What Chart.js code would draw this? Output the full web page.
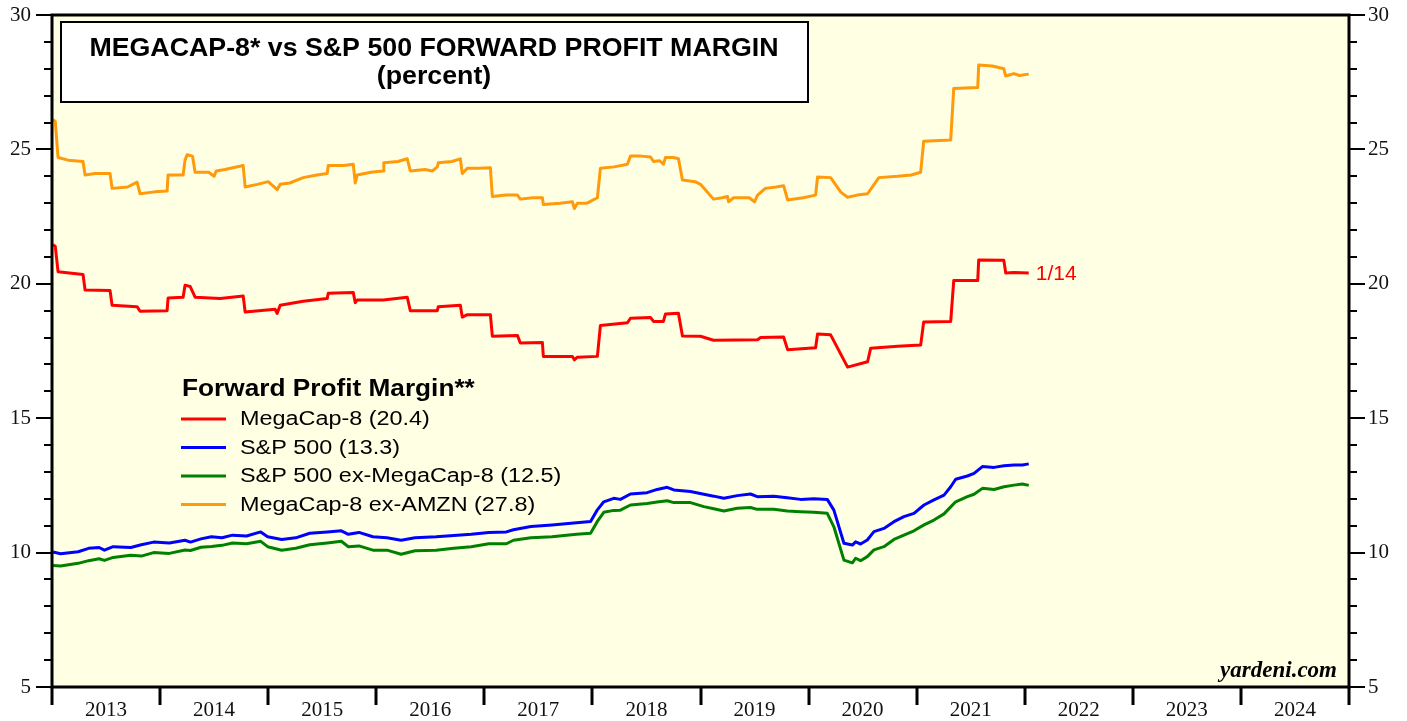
<!DOCTYPE html>
<html>
<head>
<meta charset="utf-8">
<script src="https://cdn.jsdelivr.net/npm/chart.js@4/dist/chart.umd.min.js"></script>
<style>
  html, body { margin: 0; padding: 0; background: #fff; }
  #wrap { width: 1407px; height: 721px; }
</style>
</head>
<body>
<div id="wrap"><canvas id="marginChart" width="1407" height="721"></canvas></div>
<script>
/*
  Megacap-8 vs S&P 500 forward profit margin (percent), weekly, 2013 - 1/14/2022.
  Dates are decimal years.
*/

// MegaCap-8 (red)
const megaYears = [2013.01, 2013.03, 2013.056, 2013.287, 2013.306, 2013.537, 2013.556, 2013.787, 2013.815, 2014.065,
  2014.074, 2014.213, 2014.231, 2014.278, 2014.324, 2014.556, 2014.769, 2014.787, 2015.065, 2015.083,
  2015.111, 2015.324, 2015.546, 2015.556, 2015.787, 2015.806, 2015.824, 2016.065, 2016.287, 2016.315,
  2016.565, 2016.574, 2016.778, 2016.796, 2016.843, 2017.056, 2017.074, 2017.306, 2017.333, 2017.537,
  2017.546, 2017.815, 2017.833, 2017.861, 2018.046, 2018.074, 2018.324, 2018.352, 2018.537, 2018.565,
  2018.657, 2018.676, 2018.796, 2018.833, 2019.0, 2019.12, 2019.528, 2019.556, 2019.769, 2019.806,
  2020.065, 2020.083, 2020.204, 2020.361, 2020.546, 2020.574, 2020.824, 2021.037, 2021.065, 2021.315,
  2021.343, 2021.565, 2021.574, 2021.806, 2021.824, 2021.9, 2022.037];
const megaValues = [21.45, 21.4, 20.45, 20.35, 19.77, 19.75, 19.2, 19.15, 18.98, 19.0,
  19.47, 19.5, 19.95, 19.9, 19.5, 19.45, 19.55, 18.95, 19.05, 18.9,
  19.2, 19.35, 19.45, 19.65, 19.68, 19.3, 19.4, 19.4, 19.5, 19.0,
  19.0, 19.15, 19.2, 18.76, 18.85, 18.85, 18.05, 18.08, 17.8, 17.82,
  17.3, 17.3, 17.17, 17.27, 17.3, 18.45, 18.55, 18.72, 18.75, 18.6,
  18.6, 18.88, 18.9, 18.06, 18.05, 17.9, 17.92, 18.0, 18.02, 17.55,
  17.62, 18.13, 18.1, 16.9, 17.1, 17.6, 17.68, 17.72, 18.58, 18.6,
  20.12, 20.12, 20.89, 20.88, 20.4, 20.42, 20.4];

// S&P 500 (blue) and S&P 500 ex-MegaCap-8 (green) share the same dates
const spxYears = [2013.01, 2013.079, 2013.242, 2013.339, 2013.436, 2013.485, 2013.566, 2013.729, 2013.826, 2013.94,
  2014.086, 2014.231, 2014.281, 2014.378, 2014.475, 2014.573, 2014.67, 2014.8, 2014.931, 2014.995,
  2015.125, 2015.255, 2015.385, 2015.547, 2015.677, 2015.742, 2015.84, 2015.969, 2016.099, 2016.23,
  2016.359, 2016.554, 2016.717, 2016.879, 2017.041, 2017.204, 2017.269, 2017.431, 2017.626, 2017.853,
  2017.983, 2018.044, 2018.105, 2018.197, 2018.259, 2018.352, 2018.506, 2018.599, 2018.692, 2018.753,
  2018.907, 2019.031, 2019.123, 2019.216, 2019.34, 2019.463, 2019.525, 2019.679, 2019.803, 2019.926,
  2020.049, 2020.173, 2020.234, 2020.327, 2020.405, 2020.435, 2020.481, 2020.543, 2020.605, 2020.697,
  2020.79, 2020.882, 2020.975, 2021.068, 2021.16, 2021.253, 2021.315, 2021.361, 2021.469, 2021.531,
  2021.608, 2021.716, 2021.808, 2021.901, 2021.979, 2022.037];
const spxValues = [10.02, 9.96, 10.03, 10.16, 10.19, 10.09, 10.22, 10.19, 10.29, 10.39,
  10.36, 10.46, 10.39, 10.51, 10.59, 10.55, 10.65, 10.62, 10.77, 10.59,
  10.49, 10.55, 10.72, 10.77, 10.81, 10.68, 10.75, 10.59, 10.55, 10.46,
  10.55, 10.59, 10.64, 10.68, 10.75, 10.77, 10.85, 10.97, 11.03, 11.11,
  11.16, 11.58, 11.89, 12.02, 11.98, 12.18, 12.23, 12.35, 12.43, 12.33,
  12.27, 12.17, 12.1, 12.02, 12.12, 12.18, 12.08, 12.1, 12.04, 11.98,
  12.0, 11.98, 11.58, 10.35, 10.28, 10.4, 10.32, 10.47, 10.78, 10.9,
  11.15, 11.34, 11.46, 11.77, 11.96, 12.14, 12.45, 12.73, 12.85, 12.95,
  13.2, 13.17, 13.23, 13.26, 13.26, 13.3];
const spxExValues = [9.52, 9.5, 9.6, 9.7, 9.77, 9.71, 9.82, 9.9, 9.87, 10.0,
  9.97, 10.1, 10.08, 10.2, 10.23, 10.27, 10.36, 10.33, 10.42, 10.22,
  10.09, 10.16, 10.29, 10.36, 10.42, 10.22, 10.25, 10.09, 10.09, 9.94,
  10.07, 10.09, 10.16, 10.22, 10.33, 10.33, 10.46, 10.55, 10.59, 10.68,
  10.72, 11.15, 11.5, 11.57, 11.58, 11.77, 11.83, 11.88, 11.93, 11.86,
  11.86, 11.71, 11.63, 11.55, 11.65, 11.68, 11.61, 11.61, 11.55, 11.52,
  11.5, 11.46, 10.96, 9.72, 9.62, 9.79, 9.7, 9.85, 10.1, 10.22,
  10.49, 10.65, 10.81, 11.03, 11.21, 11.44, 11.7, 11.89, 12.08, 12.17,
  12.39, 12.35, 12.45, 12.51, 12.55, 12.5];

// MegaCap-8 ex-AMZN (orange)
const exAmznYears = [2013.01, 2013.03, 2013.056, 2013.15, 2013.287, 2013.306, 2013.4, 2013.537, 2013.556, 2013.7,
  2013.787, 2013.815, 2013.95, 2014.065, 2014.074, 2014.213, 2014.231, 2014.25, 2014.3, 2014.324,
  2014.45, 2014.5, 2014.52, 2014.6, 2014.769, 2014.787, 2014.9, 2015.0, 2015.083, 2015.111,
  2015.2, 2015.324, 2015.45, 2015.546, 2015.556, 2015.7, 2015.787, 2015.806, 2015.824, 2015.95,
  2016.065, 2016.07, 2016.2, 2016.287, 2016.315, 2016.45, 2016.52, 2016.565, 2016.574, 2016.7,
  2016.778, 2016.796, 2016.843, 2016.95, 2017.056, 2017.074, 2017.2, 2017.306, 2017.333, 2017.45,
  2017.537, 2017.546, 2017.7, 2017.815, 2017.833, 2017.861, 2017.95, 2018.046, 2018.074, 2018.2,
  2018.324, 2018.352, 2018.45, 2018.537, 2018.565, 2018.62, 2018.657, 2018.676, 2018.75, 2018.796,
  2018.833, 2018.95, 2019.0, 2019.12, 2019.2, 2019.25, 2019.26, 2019.306, 2019.45, 2019.5,
  2019.528, 2019.6, 2019.7, 2019.769, 2019.806, 2019.95, 2020.065, 2020.083, 2020.204, 2020.3,
  2020.361, 2020.45, 2020.546, 2020.65, 2020.824, 2020.95, 2021.037, 2021.065, 2021.315, 2021.343,
  2021.565, 2021.574, 2021.7, 2021.806, 2021.824, 2021.9, 2021.95, 2022.037];
const exAmznValues = [26.1, 26.05, 24.7, 24.6, 24.55, 24.05, 24.1, 24.1, 23.55, 23.6,
  23.78, 23.35, 23.42, 23.45, 24.05, 24.05, 24.6, 24.8, 24.75, 24.15,
  24.15, 24.0, 24.2, 24.25, 24.4, 23.6, 23.7, 23.8, 23.5, 23.7,
  23.75, 23.95, 24.05, 24.1, 24.4, 24.4, 24.45, 23.75, 24.05, 24.15,
  24.2, 24.5, 24.55, 24.65, 24.2, 24.25, 24.2, 24.35, 24.5, 24.55,
  24.65, 24.1, 24.3, 24.3, 24.32, 23.25, 23.3, 23.3, 23.15, 23.2,
  23.2, 22.95, 23.0, 23.05, 22.8, 23.0, 23.0, 23.2, 24.3, 24.35,
  24.45, 24.75, 24.75, 24.72, 24.55, 24.58, 24.45, 24.7, 24.7, 24.65,
  23.86, 23.8, 23.7, 23.15, 23.2, 23.25, 23.05, 23.2, 23.2, 23.05,
  23.3, 23.55, 23.6, 23.65, 23.12, 23.2, 23.3, 23.97, 23.95, 23.4,
  23.22, 23.3, 23.35, 23.95, 24.0, 24.05, 24.15, 25.3, 25.35, 27.27,
  27.3, 28.14, 28.1, 28.0, 27.73, 27.82, 27.75, 27.8];

const seriesLabels = ["MegaCap-8 (20.4)", "S&P 500 (13.3)", "S&P 500 ex-MegaCap-8 (12.5)", "MegaCap-8 ex-AMZN (27.8)"];
const seriesColors = ["#ff0000", "#0000ff", "#008000", "#ff9a0a"];
const yearMin = 2013;
const yearMax = 2025;
const lastDateLabel = "1/14";

const SERIF = "'Liberation Serif', 'Times New Roman', serif";
const SANS = "'Liberation Sans', Arial, sans-serif";

function toPoints(xs, ys) {
  return xs.map((x, i) => ({ x: x, y: ys[i] }));
}

function makeDataset(i, xs, ys) {
  return {
    label: seriesLabels[i],
    data: toPoints(xs, ys),
    borderColor: seriesColors[i],
    backgroundColor: seriesColors[i],
    borderWidth: 3,
    pointRadius: 0,
    tension: 0,
    borderJoinStyle: "round",
    yAxisID: "y",
  };
}

// texto um pouco esticado na horizontal, como no original
function wideText(ctx, text, x, y, sx) {
  ctx.save();
  ctx.translate(x, y);
  ctx.scale(sx, 1);
  ctx.fillText(text, 0, 0);
  ctx.restore();
}

// fundo amarelo, moldura, marcas dos eixos, caixa de título, legenda
const decorPlugin = {
  id: "decor",
  beforeDraw(chart) {
    const { ctx, chartArea: a } = chart;
    ctx.save();
    ctx.fillStyle = "#ffffe3";
    ctx.fillRect(a.left, a.top, a.right - a.left, a.bottom - a.top);
    ctx.restore();
  },
  afterDraw(chart) {
    const { ctx, chartArea: a } = chart;
    const xs = chart.scales.x;
    const ys = chart.scales.y;
    ctx.save();

    // y ticks, both sides
    ctx.strokeStyle = "#000";
    ctx.lineWidth = 2;
    for (let v = 5; v <= 30; v++) {
      const py = Math.round(ys.getPixelForValue(v));
      const len = v % 5 === 0 ? 16 : 8;
      ctx.beginPath();
      ctx.moveTo(a.left - len, py);
      ctx.lineTo(a.left, py);
      ctx.moveTo(a.right, py);
      ctx.lineTo(a.right + len, py);
      ctx.stroke();
    }

    // x ticks at year boundaries
    ctx.lineWidth = 3;
    for (let yr = yearMin; yr <= yearMax; yr++) {
      const px = Math.round(xs.getPixelForValue(yr));
      ctx.beginPath();
      ctx.moveTo(px, a.bottom);
      ctx.lineTo(px, a.bottom + 18);
      ctx.stroke();
    }

    // frame
    ctx.lineWidth = 3;
    ctx.strokeRect(a.left, a.top, a.right - a.left, a.bottom - a.top);

    // title box
    ctx.fillStyle = "#fff";
    ctx.fillRect(61, 22, 747, 80);
    ctx.lineWidth = 2;
    ctx.strokeRect(61, 22, 747, 80);
    ctx.fillStyle = "#000";
    ctx.textAlign = "center";
    ctx.textBaseline = "middle";
    ctx.font = "bold 25px " + SANS;
    wideText(ctx, "MEGACAP-8* vs S&P 500 FORWARD PROFIT MARGIN", 434, 49, 1.07);
    wideText(ctx, "(percent)", 434, 77, 1.07);

    // legend
    ctx.textAlign = "left";
    ctx.font = "bold 23px " + SANS;
    wideText(ctx, "Forward Profit Margin**", 182, 390, 1.14);
    ctx.font = "19.5px " + SANS;
    chart.data.datasets.forEach((ds, i) => {
      const ly = 419 + i * 28.5;
      ctx.strokeStyle = ds.borderColor;
      ctx.lineWidth = 3;
      ctx.beginPath();
      ctx.moveTo(181, ly);
      ctx.lineTo(226, ly);
      ctx.stroke();
      ctx.fillStyle = "#000";
      wideText(ctx, ds.label, 240, ly + 1, 1.2);
    });

    // last date next to the red line
    const meta = chart.getDatasetMeta(0);
    const last = meta.data[meta.data.length - 1];
    ctx.fillStyle = seriesColors[0];
    ctx.font = "20px " + SANS;
    wideText(ctx, lastDateLabel, last.x + 7, last.y + 1, 1.05);

    // source
    ctx.fillStyle = "#000";
    ctx.textAlign = "right";
    ctx.textBaseline = "alphabetic";
    ctx.font = "italic bold 23px " + SERIF;
    ctx.fillText("yardeni.com", a.right - 12, a.bottom - 10);

    ctx.restore();
  },
};

function noPadding(s) {
  s.paddingTop = 0;
  s.paddingBottom = 0;
}

function renderMarginChart() {
  const ctx = document.getElementById("marginChart");

  new Chart(ctx, {
    type: "line",
    data: {
      datasets: [
        makeDataset(0, megaYears, megaValues),
        makeDataset(1, spxYears, spxValues),
        makeDataset(2, spxYears, spxExValues),
        makeDataset(3, exAmznYears, exAmznValues),
      ],
    },
    options: {
      responsive: false,
      animation: false,
      devicePixelRatio: 1,
      layout: { padding: { top: 15, left: 0, right: 0, bottom: 0 } },
      plugins: {
        legend: { display: false },
        tooltip: { enabled: false },
      },
      scales: {
        x: {
          type: "linear",
          min: yearMin,
          max: yearMax,
          grid: { display: false, drawTicks: false },
          border: { display: false },
          ticks: {
            stepSize: 1,
            autoSkip: false,
            maxRotation: 0,
            labelOffset: 54,
            padding: 11,
            color: "#111",
            font: { family: SERIF, size: 21 },
            callback: (v) => (v < yearMax ? String(v) : ""),
          },
          afterFit: (s) => {
            s.height = 34;
            s.paddingLeft = 0;
            s.paddingRight = 0;
          },
        },
        y: {
          position: "left",
          min: 5,
          max: 30,
          grid: { display: false, drawTicks: false },
          border: { display: false },
          ticks: {
            stepSize: 5,
            padding: 21,
            color: "#111",
            font: { family: SERIF, size: 21 },
          },
          afterFit: (s) => {
            s.width = 52;
            noPadding(s);
          },
        },
        y2: {
          position: "right",
          min: 5,
          max: 30,
          grid: { display: false, drawTicks: false },
          border: { display: false },
          ticks: {
            stepSize: 5,
            padding: 19,
            color: "#111",
            font: { family: SERIF, size: 21 },
          },
          afterFit: (s) => {
            s.width = 58;
            noPadding(s);
          },
        },
      },
    },
    plugins: [decorPlugin],
  });
}

renderMarginChart();
</script>
</body>
</html>
